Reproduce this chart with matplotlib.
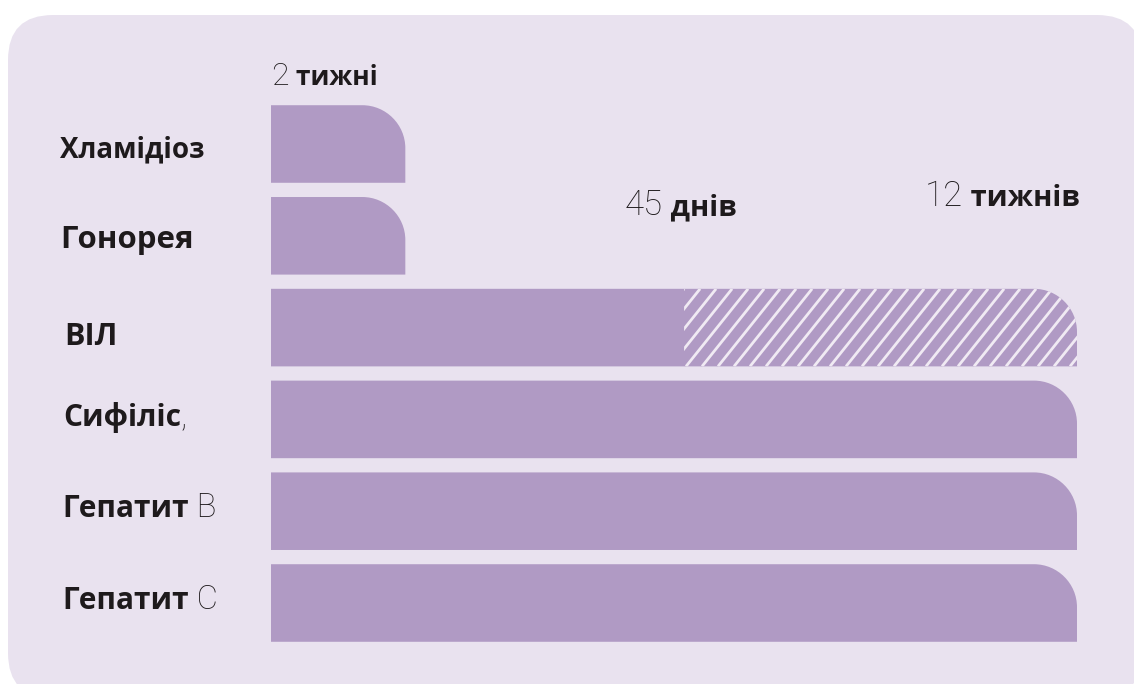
import matplotlib
matplotlib.use("Agg")
import matplotlib.pyplot as plt
from matplotlib.path import Path
from matplotlib.patches import PathPatch, FancyBboxPatch
from matplotlib.transforms import IdentityTransform

# Dados (duração em semanas)
doencas = ["Хламідіоз", "Гонорея", "ВІЛ", "Сифіліс", "Гепатит", "Гепатит"]
sufixos = ["", "", "", ",", " B", " C"]
semanas = [2, 2, 12, 12, 12, 12]
hiv_inicio_hachura = 6.15  # (~45 dias)
rotulos_num = ["2", "45", "12"]
rotulos_txt = [" тижні", " днів", " тижнів"]
rotulos_x = [0.0, 5.27, 9.74]

COR_FUNDO = "#E9E2EF"
COR_BARRA = "#B09AC4"
COR_TEXTO = "#1E1A1C"
COR_LISTRA = "#F0EAF3"

BOLD = dict(family=["Open Sans", "DejaVu Sans"], fontweight="bold")
LIGHT = dict(family=["Roboto", "DejaVu Sans"], fontweight="light")

W, H = 1134, 684
fig = plt.figure(figsize=(W / 100, H / 100), dpi=100)
fig.patch.set_facecolor("white")

# fundo arredondado (coordenadas em pixels)
fundo = FancyBboxPatch((8, -14), 1134, 683, boxstyle="round,pad=0,rounding_size=45",
                       transform=IdentityTransform(), facecolor=COR_FUNDO, edgecolor="none",
                       zorder=-5)
fig.patches.append(fundo)

ax = fig.add_axes([0, 0, 1, 1])
ax.set_facecolor("none")
px_sem = (1077 - 271) / 12.0
px_lin = 91.8
ax.set_xlim(-271 / px_sem, (W - 271) / px_sem)
ax.set_ylim((H - 144) / px_lin, -144 / px_lin)
ax.axis("off")

altura = 0.845
rx = 43 / px_sem
ry = 43 / px_lin


def barra_path(x0, x1, yc):
    top = yc - altura / 2
    bot = yc + altura / 2
    verts = [(x0, bot), (x1, bot), (x1, top + ry),
             (x1, top + ry * 0.45), (x1 - rx * 0.45, top), (x1 - rx, top),
             (x0, top), (x0, bot)]
    codes = [Path.MOVETO, Path.LINETO, Path.LINETO,
             Path.CURVE4, Path.CURVE4, Path.CURVE4,
             Path.LINETO, Path.CLOSEPOLY]
    return Path(verts, codes)


for i, w in enumerate(semanas):
    ax.add_patch(PathPatch(barra_path(0, w, i), facecolor=COR_BARRA, edgecolor="none"))

# hachura do ВІЛ
i_hiv = 2
clip = PathPatch(barra_path(hiv_inicio_hachura, semanas[i_hiv], i_hiv),
                 facecolor="none", edgecolor="none")
ax.add_patch(clip)
passo = 16 / px_sem
desloc = (px_lin / 1.25) / px_sem * altura
x = hiv_inicio_hachura - desloc
while x < semanas[i_hiv] + passo:
    ln, = ax.plot([x, x + desloc], [i_hiv + altura / 2, i_hiv - altura / 2],
                  color=COR_LISTRA, lw=2.0, solid_capstyle="butt")
    ln.set_clip_path(clip)
    x += passo

# rótulos das doenças
lab_x = [-3.14, -3.14, -3.08, -3.10, -3.10, -3.10]
lab_base = [157, 248, 345, 426, 517, 609]
lab_size = [20, 22.5, 22, 21.5, 21.5, 21.5]
for i, nome in enumerate(doencas):
    yb = lab_base[i] / px_lin - 144 / px_lin
    t = ax.text(lab_x[i], yb, nome, fontsize=lab_size[i], color=COR_TEXTO,
                va="baseline", ha="left", **BOLD)
    if sufixos[i]:
        ax.annotate(sufixos[i], xy=(1, yb), xycoords=(t, "data"), fontsize=lab_size[i] + 2,
                    color=COR_TEXTO, va="baseline", ha="left", **LIGHT)

# rótulos dos valores
val_base = [85, 215, 206]
num_size = [23, 25, 25]
txt_size = [19, 21, 21]
for k in range(3):
    yb = val_base[k] / px_lin - 144 / px_lin
    t = ax.text(rotulos_x[k], yb, rotulos_num[k], fontsize=num_size[k], color=COR_TEXTO,
                va="baseline", ha="left", **LIGHT)
    ax.annotate(rotulos_txt[k], xy=(1, yb), xycoords=(t, "data"), fontsize=txt_size[k],
                color=COR_TEXTO, va="baseline", ha="left", **BOLD)

fig.savefig("out.png", dpi=100)
